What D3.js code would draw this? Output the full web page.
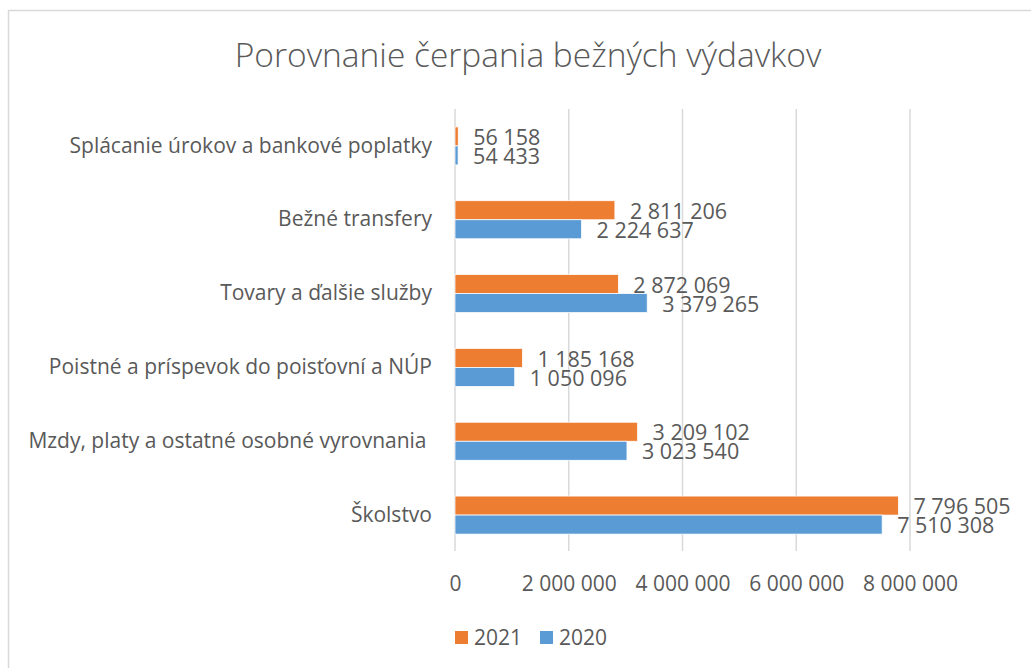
<!DOCTYPE html>
<html>
<head>
<meta charset="utf-8">
<script src="https://cdn.jsdelivr.net/npm/d3@7"></script>
<style>
  body { margin: 0; background: #fff; }
  text { font-family: "Open Sans", "Noto Sans", sans-serif; fill: #595959; }
</style>
</head>
<body>
<div id="chart"></div>
<script>
// categories top to bottom as in the picture
const categories = [
  "Splácanie úrokov a bankové poplatky",
  "Bežné transfery",
  "Tovary a ďalšie služby",
  "Poistné a príspevok do poisťovní a NÚP",
  "Mzdy, platy a ostatné osobné vyrovnania ",
  "Školstvo"
];
const series = ["2021", "2020"];
const values2021 = [56158, 2811206, 2872069, 1185168, 3209102, 7796505];
const values2020 = [54433, 2224637, 3379265, 1050096, 3023540, 7510308];
const xTicks = [0, 2000000, 4000000, 6000000, 8000000];
const colors = { "2021": "#ED7D31", "2020": "#5B9BD5" };

const width = 1031, height = 668;

const svg = d3.select("#chart").append("svg")
  .attr("width", width)
  .attr("height", height);

// chart area border (runs off the right and bottom)
svg.append("rect")
  .attr("x", 8.5).attr("y", 10.5)
  .attr("width", 1040).attr("height", 700)
  .attr("fill", "none")
  .attr("stroke", "#d9d9d9")
  .attr("stroke-width", 1.5);

svg.append("text")
  .attr("x", 528).attr("y", 67)
  .attr("text-anchor", "middle")
  .style("font-size", "33.5px")
  .style("font-weight", 300)
  .text("Porovnanie čerpania bežných výdavkov");

const x = d3.scaleLinear().domain([0, 8000000]).range([455, 910]);
const y = d3.scaleBand().domain(categories).range([109, 552])
  .paddingInner(0.485).paddingOuter(0.2425);
const ySub = d3.scaleBand().domain(series).range([0, y.bandwidth()]);

const fmt = v => d3.format(",")(v).replace(/,/g, "\u00a0");

// gridlines
svg.append("g")
  .selectAll("line")
  .data(xTicks)
  .join("line")
  .attr("x1", d => x(d)).attr("x2", d => x(d))
  .attr("y1", 109).attr("y2", 551)
  .attr("stroke", "#d9d9d9")
  .attr("stroke-width", 1.5);

// x axis labels
const xAxis = svg.append("g")
  .attr("transform", "translate(0,551)")
  .call(d3.axisBottom(x).tickValues(xTicks).tickFormat(fmt).tickSize(0).tickPadding(25));
xAxis.select(".domain").remove();
xAxis.selectAll("text").style("font-size", "21px").attr("fill", "#595959");

// category labels
const yAxis = svg.append("g")
  .attr("transform", "translate(455,0)")
  .call(d3.axisLeft(y).tickSize(0).tickPadding(23));
yAxis.select(".domain").remove();
yAxis.selectAll("text").style("font-size", "21px").attr("fill", "#595959")
  .attr("xml:space", "preserve").style("white-space", "pre");

const rows = categories.map((c, i) => ({ cat: c, "2021": values2021[i], "2020": values2020[i] }));

const groups = svg.append("g")
  .selectAll("g")
  .data(rows)
  .join("g")
  .attr("transform", d => `translate(0,${y(d.cat)})`);

groups.selectAll("rect")
  .data(d => series.map(s => ({ s, v: d[s] })))
  .join("rect")
  .attr("x", x(0))
  .attr("y", d => ySub(d.s))
  .attr("width", d => Math.max(1.5, x(d.v) - x(0)))
  .attr("height", ySub.bandwidth())
  .attr("fill", d => colors[d.s])
  .attr("stroke", "#fff")
  .attr("stroke-width", 0.75);

groups.selectAll("text.val")
  .data(d => series.map(s => ({ s, v: d[s] })))
  .join("text")
  .attr("class", "val")
  .attr("x", d => x(d.v) + 15)
  .attr("y", d => ySub(d.s) + ySub.bandwidth() / 2 + 1)
  .attr("dy", "0.36em")
  .style("font-size", "21.5px")
  .text(d => fmt(d.v));

// legend
const legend = svg.append("g")
  .selectAll("g")
  .data(series)
  .join("g")
  .attr("transform", (d, i) => `translate(${455 + i * 85},631)`);
legend.append("rect")
  .attr("width", 13).attr("height", 13)
  .attr("fill", d => colors[d]);
legend.append("text")
  .attr("x", 19).attr("y", 6.5)
  .attr("dy", "0.36em")
  .style("font-size", "21px")
  .text(d => d);
</script>
</body>
</html>
